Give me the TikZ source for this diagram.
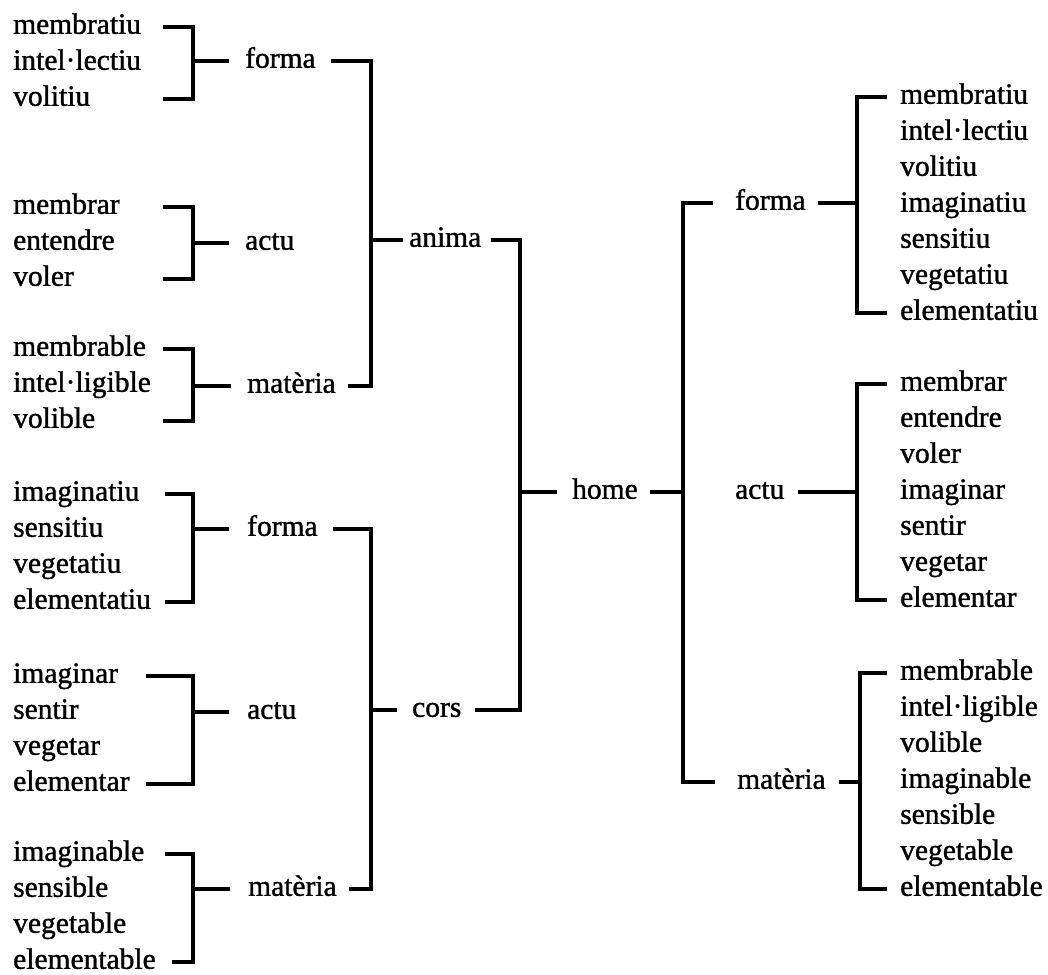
\documentclass[tikz,border=0pt]{standalone}
\usepackage{fontspec}
\setmainfont[FakeBold=1.2]{Liberation Serif}
\usetikzlibrary{positioning}

\begin{document}
\fontsize{29.5}{36}\selectfont
\begin{tikzpicture}[x=1pt, y=-1pt,
    leaf/.style={anchor=mid west, inner sep=0pt},
    brk/.style={line width=3.8pt}]

    \useasboundingbox (0,0) rectangle (1048,974);

    % columns of the brackets
    \coordinate (lt) at (163,0);
    \coordinate (lt5) at (146,0);
    \coordinate (lt6) at (165,0);
    \coordinate (lv) at (193,0);
    \coordinate (av) at (371,0);
    \coordinate (hv) at (520,0);
    \coordinate (rv) at (683,0);
    \coordinate (rb) at (857,0);
    \coordinate (rb2) at (860,0);

    % anima (left, top)
    \foreach \w [count=\i] in {membratiu, intel·lectiu, volitiu}
        \node[leaf] (af\i) at (13,{27+36*(\i-1)}) {\w};
    \foreach \w [count=\i] in {membrar, entendre, voler}
        \node[leaf] (aa\i) at (13,{207+36*(\i-1)}) {\w};
    \foreach \w [count=\i] in {membrable, intel·ligible, volible}
        \node[leaf] (am\i) at (13,{349+36*(\i-1)}) {\w};
    \node[leaf] (af) at (245,61) {forma};
    \node[leaf] (aa) at (245,243) {actu};
    \node[leaf] (am) at (247,386) {matèria};

    \draw[brk] (af1.mid -| lt) -| (af3.mid -| lv) -- (af3.mid -| lt);
    \draw[brk] (af.mid -| lv) -- ([xshift=-16pt]af.mid west);
    \draw[brk] (aa1.mid -| lt) -| (aa3.mid -| lv) -- (aa3.mid -| lt);
    \draw[brk] (aa.mid -| lv) -- ([xshift=-16pt]aa.mid west);
    \draw[brk] (am1.mid -| lt) -| (am3.mid -| lv) -- (am3.mid -| lt);
    \draw[brk] (am.mid -| lv) -- ([xshift=-16pt]am.mid west);

    % cors (left, bottom)
    \foreach \w [count=\i] in {imaginatiu, sensitiu, vegetatiu, elementatiu}
        \node[leaf] (cf\i) at (13,{494+36*(\i-1)}) {\w};
    \foreach \w [count=\i] in {imaginar, sentir, vegetar, elementar}
        \node[leaf] (ca\i) at (13,{676+36*(\i-1)}) {\w};
    \foreach \w [count=\i] in {imaginable, sensible, vegetable, elementable}
        \node[leaf] (cm\i) at (13,{854+36*(\i-1)}) {\w};
    \node[leaf] (cf) at (247,529) {forma};
    \node[leaf] (ca) at (247,712) {actu};
    \node[leaf] (cm) at (248,889) {matèria};

    \draw[brk] (cf1.mid -| lt6) -| (cf4.mid -| lv) -- (cf4.mid -| lt6);
    \draw[brk] (cf.mid -| lv) -- ([xshift=-18pt]cf.mid west);
    \draw[brk] (ca1.mid -| lt5) -| (ca4.mid -| lv) -- (ca4.mid -| lt5);
    \draw[brk] (ca.mid -| lv) -- ([xshift=-18pt]ca.mid west);
    \draw[brk] (cm1.mid -| lt6) -| (cm4.mid -| lv) -- ([xshift=16pt]cm4.mid east);
    \draw[brk] (cm.mid -| lv) -- ([xshift=-18pt]cm.mid west);

    % anima, cors, home
    \node[leaf] (an) at (409,240) {anima};
    \node[leaf] (co) at (412,710) {cors};
    \node[leaf] (ho) at (572,492) {home};

    \draw[brk] ([xshift=15pt]af.mid east) -| (am.mid -| av) -- ([xshift=12pt]am.mid east);
    \draw[brk] (an.mid -| av) -- ([xshift=-6pt]an.mid west);
    \draw[brk] ([xshift=15pt]cf.mid east) -| (cm.mid -| av) -- ([xshift=12pt]cm.mid east);
    \draw[brk] (co.mid -| av) -- ([xshift=-15pt]co.mid west);

    \draw[brk] ([xshift=10pt]an.mid east) -| (co.mid -| hv) -- ([xshift=13pt]co.mid east);
    \draw[brk] (ho.mid -| hv) -- ([xshift=-15pt]ho.mid west);

    % right side
    \node[leaf] (rf) at (735,203) {forma};
    \node[leaf] (ra) at (735,492) {actu};
    \node[leaf] (rm) at (737,782) {matèria};

    \draw[brk] ([xshift=12pt]ho.mid east) -- (ho.mid -| rv);
    \draw[brk] ([xshift=-22pt]rf.mid west) -| (rm.mid -| rv) -- ([xshift=-22pt]rm.mid west);

    \foreach \w [count=\i] in {membratiu, intel·lectiu, volitiu, imaginatiu, sensitiu, vegetatiu, elementatiu}
        \node[leaf] (rf\i) at (900,{97+36*(\i-1)}) {\w};
    \foreach \w [count=\i] in {membrar, entendre, voler, imaginar, sentir, vegetar, elementar}
        \node[leaf] (ra\i) at (900,{384+36*(\i-1)}) {\w};
    \foreach \w [count=\i] in {membrable, intel·ligible, volible, imaginable, sensible, vegetable, elementable}
        \node[leaf] (rm\i) at (900,{673+36*(\i-1)}) {\w};

    \draw[brk] ([xshift=-13pt]rf1.mid west) -| (rf7.mid -| rb) -- ([xshift=-13pt]rf7.mid west);
    \draw[brk] ([xshift=12pt]rf.mid east) -- (rf.mid -| rb);
    \draw[brk] ([xshift=-13pt]ra1.mid west) -| (ra7.mid -| rb) -- ([xshift=-13pt]ra7.mid west);
    \draw[brk] ([xshift=13pt]ra.mid east) -- (ra.mid -| rb);
    \draw[brk] ([xshift=-13pt]rm1.mid west) -| (rm7.mid -| rb2) -- ([xshift=-13pt]rm7.mid west);
    \draw[brk] ([xshift=13pt]rm.mid east) -- (rm.mid -| rb2);
\end{tikzpicture}
\end{document}
